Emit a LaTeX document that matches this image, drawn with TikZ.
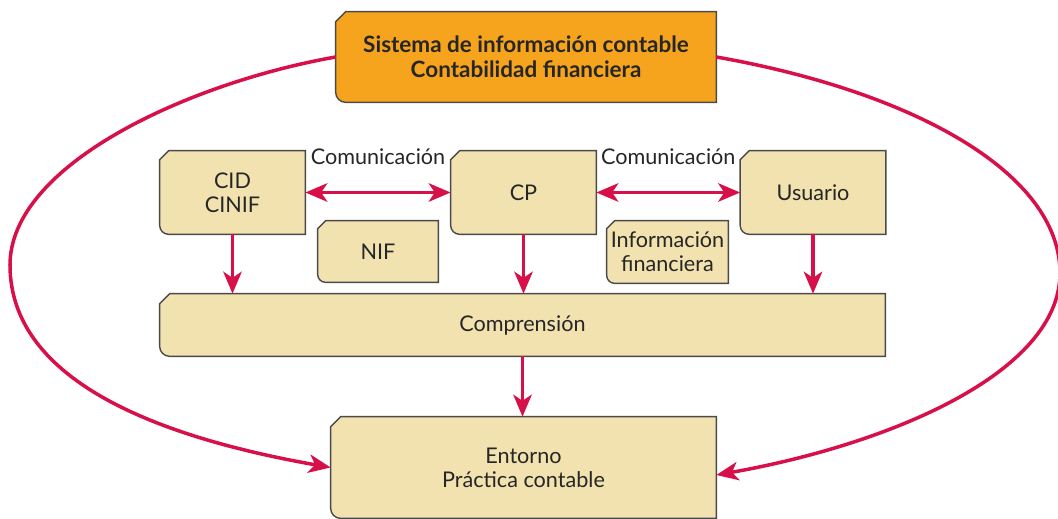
\documentclass[tikz,border=0pt]{standalone}
\usepackage{fontspec}
\setmainfont{Lato}
\usetikzlibrary{arrows.meta,calc,positioning}
\pgfdeclarelayer{background}
\pgfsetlayers{background,main}

\definecolor{cardfill}{HTML}{F1E2AF}
\definecolor{topfill}{HTML}{F6A41E}
\definecolor{linkred}{HTML}{D7104A}
\definecolor{inkgray}{HTML}{262626}
\definecolor{edgegray}{HTML}{4A4A4A}

\tikzset{
  card/.style={inner sep=0pt, align=center, text=inkgray,
    font=\fontsize{12.3}{13.8}\selectfont},
  frameline/.style={draw=edgegray, line width=0.8pt},
  linkarrow/.style={draw=linkred, line width=2pt,
    -{Stealth[length=12.5pt, width=10.5pt, inset=3.5pt]}},
  biarrow/.style={linkarrow,
    {Stealth[length=12.5pt, width=10.5pt, inset=3.5pt]}-{Stealth[length=12.5pt, width=10.5pt, inset=3.5pt]}},
  comlabel/.style={inner sep=0pt, text=inkgray, font=\fontsize{12.3}{13.8}\selectfont}
}

% chamfered top-left corner, rounded bottom-left corner
\newcommand{\cardframe}[3]{%
  \draw[frameline, fill=#2] ($(#1.north west)+(#3,0)$) -- (#1.north east)
    -- (#1.south east) -- ($(#1.south west)+(#3,0)$)
    arc[start angle=270, end angle=180, radius=#3]
    -- ($(#1.north west)+(0,-#3)$) -- cycle;}

\begin{document}
\begin{tikzpicture}
  \useasboundingbox (0,0) rectangle (21.16,10.36);

  % boxes
  \node[card, minimum width=7.6cm, minimum height=1.8cm,
    font=\fontsize{12.8}{14.2}\selectfont\bfseries] (sic) at (10.52,9.22)
    {Sistema de información contable\\Contabilidad financiera};
  \node[card, minimum width=2.9cm, minimum height=1.66cm] (cid) at (4.65,6.51) {CID\\CINIF};
  \node[card, minimum width=2.9cm, minimum height=1.66cm] (cp) at (10.47,6.51) {CP};
  \node[card, minimum width=2.9cm, minimum height=1.66cm] (usr) at (16.26,6.51) {Usuario};
  \node[card, minimum width=2.4cm, minimum height=1.22cm] (nif) at (7.56,5.33) {NIF};
  \node[card, minimum width=2.42cm, minimum height=1.24cm] (info) at (13.35,5.32)
    {Información\\financiera};
  \node[card, minimum width=14.5cm, minimum height=1.24cm] (comp) at (10.45,3.86) {Comprensión};
  \node[card, minimum width=7.7cm, minimum height=2.02cm] (ent) at (10.47,1.01)
    {Entorno\\Práctica contable};

  \begin{pgfonlayer}{background}
    \cardframe{sic}{topfill}{0.2}
    \foreach \n/\r in {cid/0.18, cp/0.18, usr/0.18, nif/0.16, info/0.16, comp/0.2, ent/0.2}
      {\cardframe{\n}{cardfill}{\r}}
  \end{pgfonlayer}

  % communication
  \draw[biarrow] (cid.east) -- (cp.west)
    node[comlabel, midway, yshift=0.71cm] {Comunicación};
  \draw[biarrow] (cp.east) -- (usr.west)
    node[comlabel, midway, yshift=0.71cm] {Comunicación};

  % down to comprension and entorno
  \draw[linkarrow] (cid.south) -- (cid.south |- comp.north);
  \draw[linkarrow] (cp.south) -- (cp.south |- comp.north);
  \draw[linkarrow] (usr.south) -- (usr.south |- comp.north);
  \draw[linkarrow] (comp.south) -- (comp.south |- ent.north);

  % outer loops
  \coordinate (leftbend) at (0.2,5.06);
  \coordinate (rightbend) at (21.2,4.9);
  \draw[linkarrow] (sic.west) .. controls +(190:3) and +(90:2) .. (leftbend)
    .. controls +(270:2.5) and +(170:3) .. (ent.west);
  \draw[linkarrow] (sic.east) .. controls +(350:4) and +(90:2) .. (rightbend)
    .. controls +(270:2) and +(10:3.5) .. ([yshift=-0.15cm]ent.east);
\end{tikzpicture}
\end{document}
